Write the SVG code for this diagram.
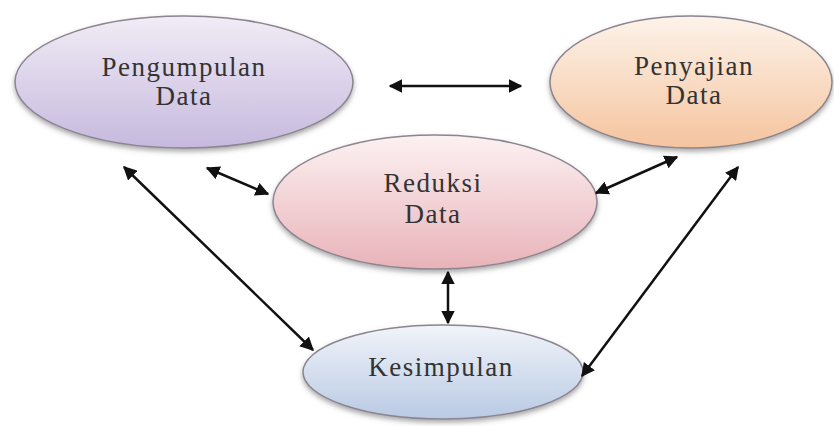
<svg xmlns="http://www.w3.org/2000/svg" width="834" height="426" viewBox="0 0 834 426">
<style>
.lbl{font-family:"Liberation Serif","Times New Roman",serif;font-size:27px;fill:#333;text-anchor:middle;letter-spacing:1.5px}
.node{stroke:#8c8590;stroke-width:1.5;filter:url(#sh)}
.conn{stroke:#111;stroke-width:2.5;fill:none;marker-start:url(#ah);marker-end:url(#ah)}
</style>
<defs>
<marker id="ah" viewBox="0 0 10 10" refX="9" refY="5" markerWidth="5.5" markerHeight="5.5" orient="auto-start-reverse" markerUnits="strokeWidth">
<path d="M0,0 L10,5 L0,10 z" fill="#111"/>
</marker>
<filter id="sh" x="-10%" y="-10%" width="120%" height="130%">
<feDropShadow dx="0" dy="3" stdDeviation="2.5" flood-color="#555" flood-opacity="0.5"/>
</filter>
<linearGradient id="gP" x1="0" y1="0" x2="0" y2="1"><stop offset="0" stop-color="#f1ecf6"/><stop offset="1" stop-color="#c6b9de"/></linearGradient>
<linearGradient id="gS" x1="0" y1="0" x2="0" y2="1"><stop offset="0" stop-color="#fdf3ea"/><stop offset="1" stop-color="#f5c49e"/></linearGradient>
<linearGradient id="gR" x1="0" y1="0" x2="0" y2="1"><stop offset="0" stop-color="#fcf1f2"/><stop offset="1" stop-color="#e8b3b9"/></linearGradient>
<linearGradient id="gK" x1="0" y1="0" x2="0" y2="1"><stop offset="0" stop-color="#f1f4f9"/><stop offset="1" stop-color="#b9cae4"/></linearGradient>
</defs>
<rect width="834" height="426" fill="#ffffff"/>
<g id="pengumpulan">
<ellipse class="node" cx="184" cy="82" rx="169" ry="66" fill="url(#gP)"/>
<text class="lbl" x="184" y="76">Pengumpulan</text>
<text class="lbl" x="184" y="105">Data</text>
</g>
<g id="penyajian">
<ellipse class="node" cx="691" cy="82" rx="141" ry="66" fill="url(#gS)"/>
<text class="lbl" x="694" y="75">Penyajian</text>
<text class="lbl" x="694" y="104">Data</text>
</g>
<g id="reduksi">
<ellipse class="node" cx="435" cy="202" rx="162" ry="67" fill="url(#gR)"/>
<text class="lbl" x="433" y="192">Reduksi</text>
<text class="lbl" x="433" y="223">Data</text>
</g>
<g id="kesimpulan">
<ellipse class="node" cx="443" cy="372" rx="140" ry="47" fill="url(#gK)"/>
<text class="lbl" x="441" y="376">Kesimpulan</text>
</g>
<g id="connectors">
<line class="conn" x1="390" y1="86" x2="521" y2="86"/>
<line class="conn" x1="207" y1="168" x2="268" y2="194"/>
<line class="conn" x1="124" y1="167" x2="313" y2="350"/>
<line class="conn" x1="448" y1="272" x2="448" y2="323"/>
<line class="conn" x1="677" y1="157" x2="596" y2="193"/>
<line class="conn" x1="738" y1="167" x2="582" y2="376"/>
</g>
</svg>
